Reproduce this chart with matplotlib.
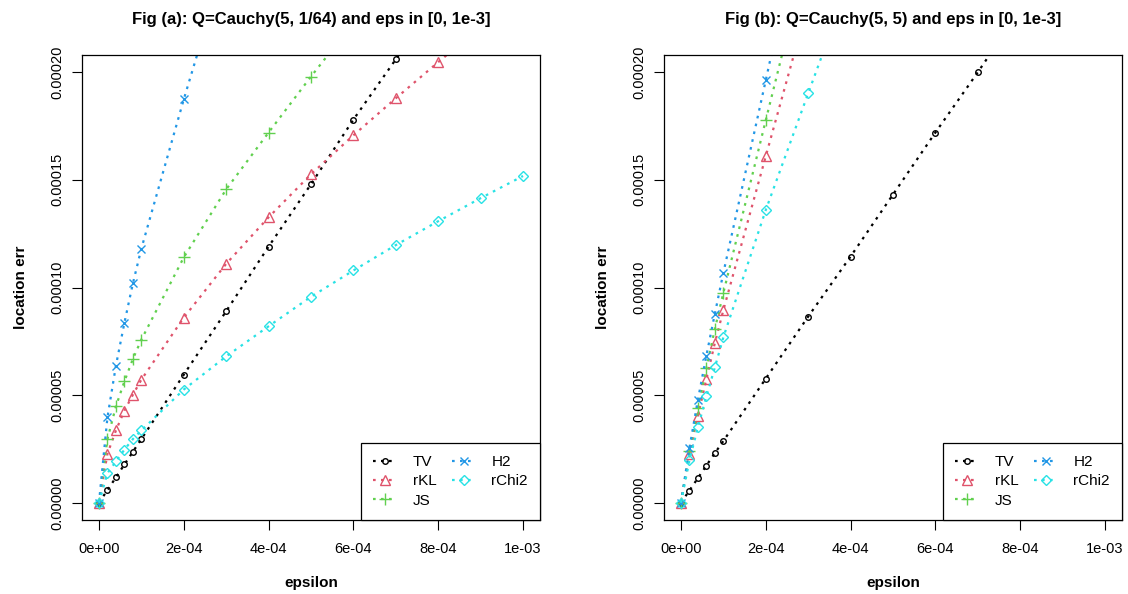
import numpy as np
import matplotlib.pyplot as plt

plt.rcParams['font.family'] = ['Liberation Sans', 'DejaVu Sans']

# epsilon grid (shared by both panels)
eps = [0, 2e-5, 4e-5, 6e-5, 8e-5, 1e-4, 2e-4, 3e-4, 4e-4, 5e-4, 6e-4, 7e-4, 8e-4, 9e-4, 1e-3]

# Fig (a): Q = Cauchy(5, 1/64)
tv_a = [0, 5.9e-6, 1.18e-5, 1.78e-5, 2.37e-5, 2.96e-5, 5.95e-5, 8.9e-5, 1.19e-4, 1.48e-4,
        1.78e-4, 2.06e-4, 2.35e-4, 2.64e-4, 2.93e-4]
rkl_a = [0, 2.28e-5, 3.36e-5, 4.28e-5, 5.02e-5, 5.72e-5, 8.6e-5, 1.11e-4, 1.326e-4, 1.526e-4,
         1.707e-4, 1.879e-4, 2.047e-4, 2.21e-4, 2.37e-4]
js_a = [0, 2.96e-5, 4.48e-5, 5.64e-5, 6.68e-5, 7.58e-5, 1.14e-4, 1.456e-4, 1.72e-4, 1.98e-4,
        2.23e-4, 2.47e-4, 2.7e-4, 2.93e-4, 3.15e-4]
h2_a = [0, 3.97e-5, 6.37e-5, 8.36e-5, 1.019e-4, 1.181e-4, 1.874e-4, 2.53e-4, 3.17e-4, 3.8e-4,
        4.42e-4, 5.03e-4, 5.63e-4, 6.22e-4, 6.8e-4]
rchi2_a = [0, 1.38e-5, 1.92e-5, 2.47e-5, 2.96e-5, 3.36e-5, 5.26e-5, 6.8e-5, 8.2e-5, 9.57e-5,
           1.079e-4, 1.197e-4, 1.308e-4, 1.415e-4, 1.518e-4]

# Fig (b): Q = Cauchy(5, 5)
tv_b = [0, 5.7e-6, 1.15e-5, 1.73e-5, 2.31e-5, 2.87e-5, 5.77e-5, 8.65e-5, 1.144e-4, 1.432e-4,
        1.72e-4, 2.0e-4, 2.29e-4, 2.58e-4, 2.87e-4]
rkl_b = [0, 2.28e-5, 4.05e-5, 5.75e-5, 7.43e-5, 8.95e-5, 1.61e-4, 2.32e-4, 3.02e-4, 3.72e-4,
         4.41e-4, 5.1e-4, 5.79e-4, 6.48e-4, 7.17e-4]
js_b = [0, 2.4e-5, 4.4e-5, 6.26e-5, 8.08e-5, 9.75e-5, 1.777e-4, 2.57e-4, 3.36e-4, 4.14e-4,
        4.92e-4, 5.7e-4, 6.47e-4, 7.24e-4, 8.01e-4]
h2_b = [0, 2.54e-5, 4.79e-5, 6.84e-5, 8.79e-5, 1.068e-4, 1.963e-4, 2.86e-4, 3.75e-4, 4.64e-4,
        5.53e-4, 6.41e-4, 7.29e-4, 8.17e-4, 9.05e-4]
rchi2_b = [0, 1.97e-5, 3.52e-5, 4.94e-5, 6.29e-5, 7.69e-5, 1.36e-4, 1.902e-4, 2.44e-4, 2.98e-4,
           3.52e-4, 4.06e-4, 4.6e-4, 5.14e-4, 5.68e-4]

names = ["TV", "rKL", "JS", "H2", "rChi2"]
colors = ["#000000", "#DF536B", "#61D04F", "#2297E6", "#28E2E5"]
markers = ["o", "^", "+", "x", "D"]
msizes = [4, 6.5, 8, 6, 5.5]

panels = [
    ("Fig (a): Q=Cauchy(5, 1/64) and eps in [0, 1e-3]", [tv_a, rkl_a, js_a, h2_a, rchi2_a]),
    ("Fig (b): Q=Cauchy(5, 5) and eps in [0, 1e-3]", [tv_b, rkl_b, js_b, h2_b, rchi2_b]),
]

fig = plt.figure(figsize=(11.28, 5.94), dpi=100)
lefts = [82 / 1128, 664 / 1128]

for left, (title, series) in zip(lefts, panels):
    ax = fig.add_axes([left, 74 / 594, 458 / 1128, 465 / 594])
    for vals, name, col, mk, ms in zip(series, names, colors, markers, msizes):
        ax.plot(eps, vals, color=col, linestyle=(0, (1.2, 2.4)), linewidth=1.6,
                marker=mk, markersize=ms, markerfacecolor="none",
                markeredgecolor=col, markeredgewidth=1.0, label=name)
    ax.set_xlim(-4e-5, 1.04e-3)
    ax.set_ylim(-8e-6, 2.08e-4)
    ax.set_xticks([0, 2e-4, 4e-4, 6e-4, 8e-4, 1e-3])
    ax.set_xticklabels(["0e+00", "2e-04", "4e-04", "6e-04", "8e-04", "1e-03"])
    ax.set_yticks([0, 5e-5, 1e-4, 1.5e-4, 2e-4])
    ax.set_yticklabels(["0.00000", "0.00005", "0.00010", "0.00015", "0.00020"],
                       rotation=90, va="center")
    ax.tick_params(direction="out", length=7, width=0.8, labelsize=10.5)
    ax.tick_params(axis="x", pad=9)
    ax.tick_params(axis="y", pad=6)
    for sp in ax.spines.values():
        sp.set_linewidth(0.9)
    ax.set_title(title, fontsize=12, fontweight="bold", pad=22)
    ax.set_xlabel("epsilon", fontsize=11, fontweight="bold", labelpad=14)
    ax.set_ylabel("location err", fontsize=11, fontweight="bold", labelpad=16)
    leg = ax.legend(loc="lower right", ncol=2, fontsize=11, frameon=True, fancybox=False,
                    edgecolor="black", framealpha=1, borderaxespad=0, handlelength=1.6,
                    handletextpad=1.0, columnspacing=1.0, labelspacing=0.35, borderpad=0.8)
    leg.get_frame().set_linewidth(0.9)

fig.savefig("out.png", dpi=100)
